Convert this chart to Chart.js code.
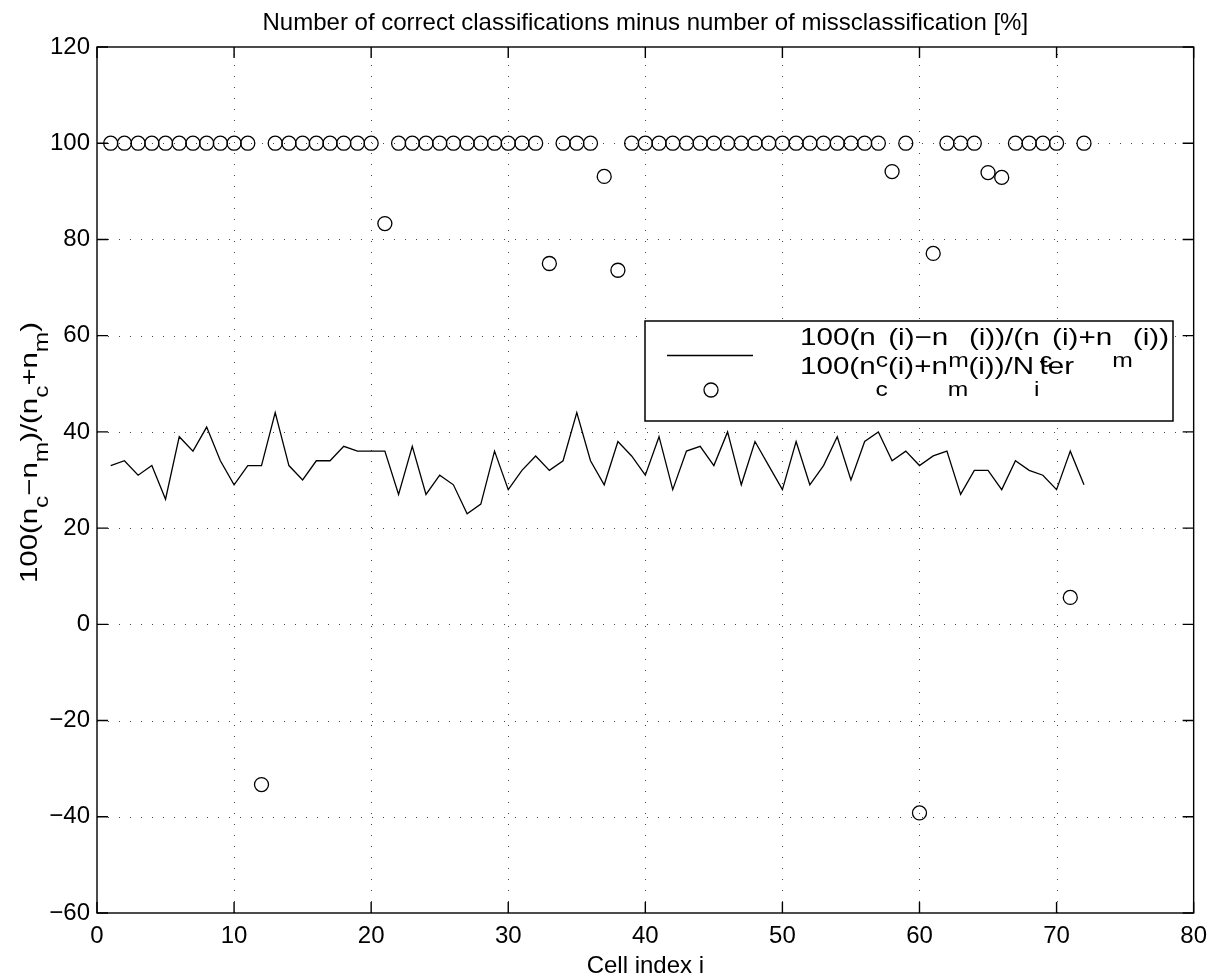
<!DOCTYPE html>
<html>
<head>
<meta charset="utf-8">
<script src="https://cdn.jsdelivr.net/npm/chart.js@4.4.1/dist/chart.umd.min.js"></script>
<style>
  body { margin: 0; background: #fff; }
  #chart { display: block; }
</style>
</head>
<body>
<canvas id="chart" width="1216" height="979"></canvas>
<script>
// cell index i = 1..72
const cellIndex = [
  1, 2, 3, 4, 5, 6, 7, 8, 9, 10,
  11, 12, 13, 14, 15, 16, 17, 18, 19, 20,
  21, 22, 23, 24, 25, 26, 27, 28, 29, 30,
  31, 32, 33, 34, 35, 36, 37, 38, 39, 40,
  41, 42, 43, 44, 45, 46, 47, 48, 49, 50,
  51, 52, 53, 54, 55, 56, 57, 58, 59, 60,
  61, 62, 63, 64, 65, 66, 67, 68, 69, 70,
  71, 72
];

// 100(nc-nm)/(nc+nm)  (solid line)
const correctMinusMiss = [
  33, 34, 31, 33, 26, 39, 36, 41, 34, 29,
  33, 33, 44, 33, 30, 34, 34, 37, 36, 36,
  36, 27, 37, 27, 31, 29, 23, 25, 36, 28,
  32, 35, 32, 34, 44, 34, 29, 38, 35, 31,
  39, 28, 36, 37, 33, 40, 29, 38, 33, 28,
  38, 29, 33, 39, 30, 38, 40, 34, 36, 33,
  35, 36, 27, 32, 32, 28, 34, 32, 31, 28,
  36, 29
];

// 100(nc+nm)/Niter  (circles)
const classifiedShare = [
  100, 100, 100, 100, 100, 100, 100, 100, 100, 100,
  100, -33.3, 100, 100, 100, 100, 100, 100, 100, 100,
  83.3, 100, 100, 100, 100, 100, 100, 100, 100, 100,
  100, 100, 75.0, 100, 100, 100, 93.1, 73.6, 100, 100,
  100, 100, 100, 100, 100, 100, 100, 100, 100, 100,
  100, 100, 100, 100, 100, 100, 100, 94.1, 100, -39.2,
  77.1, 100, 100, 100, 93.9, 92.9, 100, 100, 100, 100,
  5.6, 100
];

const xTicks = { min: 0, max: 80, step: 10 };
const yTicks = { min: -60, max: 120, step: 20 };

const FONT = '"Liberation Sans", Arial, Helvetica, sans-serif';
const MAIN_FONT = '24px ' + FONT;
const SUB_FONT = '20px ' + FONT;

const titleText = 'Number of correct classifications minus number of missclassification [%]';
const xTitle = 'Cell index i';
// [text, subscript?]
const yTitle = [['100(n', 0], ['c', 1], ['\u2212n', 0], ['m', 1], [')/(n', 0], ['c', 1], ['+n', 0], ['m', 1], [')', 0]];
const legendLine1 = [['100(n', 0], ['c', 1], ['(i)\u2212n', 0], ['m', 1], ['(i))/(n', 0], ['c', 1], ['(i)+n', 0], ['m', 1], ['(i))', 0]];
const legendLine2 = [['100(n', 0], ['c', 1], ['(i)+n', 0], ['m', 1], ['(i))/N', 0], ['i', 1], ['ter', 0]];

function drawTex(ctx, parts, x, y, width, subShift, rotate) {
  ctx.save();
  ctx.translate(x, y);
  if (rotate) ctx.rotate(rotate);
  let natural = 0;
  parts.forEach(p => {
    ctx.font = p[1] ? SUB_FONT : MAIN_FONT;
    natural += ctx.measureText(p[0]).width;
  });
  ctx.scale(width / natural, 1);
  ctx.fillStyle = '#000';
  ctx.textAlign = 'left';
  ctx.textBaseline = 'alphabetic';
  let cx = 0;
  parts.forEach(p => {
    ctx.font = p[1] ? SUB_FONT : MAIN_FONT;
    ctx.fillText(p[0], cx, p[1] ? subShift : 0);
    cx += ctx.measureText(p[0]).width;
  });
  ctx.restore();
}

const matlabFrame = {
  id: 'matlabFrame',
  beforeDatasetsDraw(chart) {
    const { ctx, chartArea: a, scales: { x, y } } = chart;
    ctx.save();
    ctx.strokeStyle = '#444';
    ctx.lineWidth = 1;
    ctx.setLineDash([1, 10]);
    x.ticks.forEach(t => {
      if (t.value <= xTicks.min || t.value >= xTicks.max) return;
      const px = Math.round(x.getPixelForValue(t.value)) + 0.5;
      ctx.beginPath();
      ctx.moveTo(px, a.bottom);
      ctx.lineTo(px, a.top);
      ctx.stroke();
    });
    y.ticks.forEach(t => {
      if (t.value <= yTicks.min || t.value >= yTicks.max) return;
      const py = Math.round(y.getPixelForValue(t.value)) + 0.5;
      ctx.beginPath();
      ctx.moveTo(a.left, py);
      ctx.lineTo(a.right, py);
      ctx.stroke();
    });
    ctx.restore();
  },
  afterDatasetsDraw(chart) {
    const { ctx, chartArea: a, scales: { x, y } } = chart;
    ctx.save();
    ctx.strokeStyle = '#000';
    ctx.lineWidth = 1.4;
    ctx.setLineDash([]);
    ctx.strokeRect(a.left, a.top, a.right - a.left, a.bottom - a.top);
    const tl = 11;
    ctx.beginPath();
    x.ticks.forEach(t => {
      const px = x.getPixelForValue(t.value);
      ctx.moveTo(px, a.bottom); ctx.lineTo(px, a.bottom - tl);
      ctx.moveTo(px, a.top); ctx.lineTo(px, a.top + tl);
    });
    y.ticks.forEach(t => {
      const py = y.getPixelForValue(t.value);
      ctx.moveTo(a.left, py); ctx.lineTo(a.left + tl, py);
      ctx.moveTo(a.right, py); ctx.lineTo(a.right - tl, py);
    });
    ctx.stroke();

    // legend
    ctx.fillStyle = '#fff';
    ctx.fillRect(645, 321, 528, 100);
    ctx.lineWidth = 1.5;
    ctx.strokeRect(645, 321, 528, 100);
    ctx.lineWidth = 1.3;
    ctx.beginPath();
    ctx.moveTo(667, 355.5); ctx.lineTo(753, 355.5);
    ctx.stroke();
    ctx.beginPath();
    ctx.arc(711, 390, 7, 0, Math.PI * 2);
    ctx.stroke();
    drawTex(ctx, legendLine1, 800, 344.5, 369, 22);
    drawTex(ctx, legendLine2, 800, 373.5, 274, 22);

    // titles
    ctx.fillStyle = '#000';
    ctx.font = MAIN_FONT;
    ctx.textAlign = 'center';
    ctx.textBaseline = 'alphabetic';
    const cx = (a.left + a.right) / 2;
    ctx.fillText(titleText, cx, 30);
    ctx.fillText(xTitle, cx, 973);
    drawTex(ctx, yTitle, 37, 583, 261, 11, -Math.PI / 2);
    ctx.restore();
  }
};

const minusSign = v => String(v).replace('-', '\u2212');

new Chart(document.getElementById('chart').getContext('2d'), {
  type: 'scatter',
  data: {
    datasets: [
      {
        type: 'line',
        label: 'diff',
        data: cellIndex.map((c, i) => ({ x: c, y: correctMinusMiss[i] })),
        borderColor: '#000',
        borderWidth: 1.3,
        pointRadius: 0,
        tension: 0,
        fill: false
      },
      {
        type: 'scatter',
        label: 'share',
        data: cellIndex.map((c, i) => ({ x: c, y: classifiedShare[i] })),
        borderColor: '#000',
        backgroundColor: 'rgba(0,0,0,0)',
        borderWidth: 1.3,
        pointRadius: 7,
        pointStyle: 'circle'
      }
    ]
  },
  options: {
    responsive: false,
    animation: false,
    devicePixelRatio: 1,
    layout: { padding: { left: 0, top: 47, right: 19, bottom: 0 } },
    plugins: {
      legend: { display: false },
      title: { display: false },
      tooltip: { enabled: false }
    },
    scales: {
      x: {
        type: 'linear',
        min: xTicks.min,
        max: xTicks.max,
        afterFit: s => { s.height = 66; },
        grid: { display: false, drawTicks: false },
        border: { display: false },
        ticks: {
          stepSize: xTicks.step,
          color: '#000',
          font: { family: FONT, size: 24 },
          padding: 9,
          maxRotation: 0,
          callback: minusSign
        }
      },
      y: {
        type: 'linear',
        min: yTicks.min,
        max: yTicks.max,
        afterFit: s => { s.width = 97; },
        grid: { display: false, drawTicks: false },
        border: { display: false },
        ticks: {
          stepSize: yTicks.step,
          color: '#000',
          font: { family: FONT, size: 24 },
          padding: 7,
          callback: minusSign
        }
      }
    }
  },
  plugins: [matlabFrame]
});
</script>
</body>
</html>
